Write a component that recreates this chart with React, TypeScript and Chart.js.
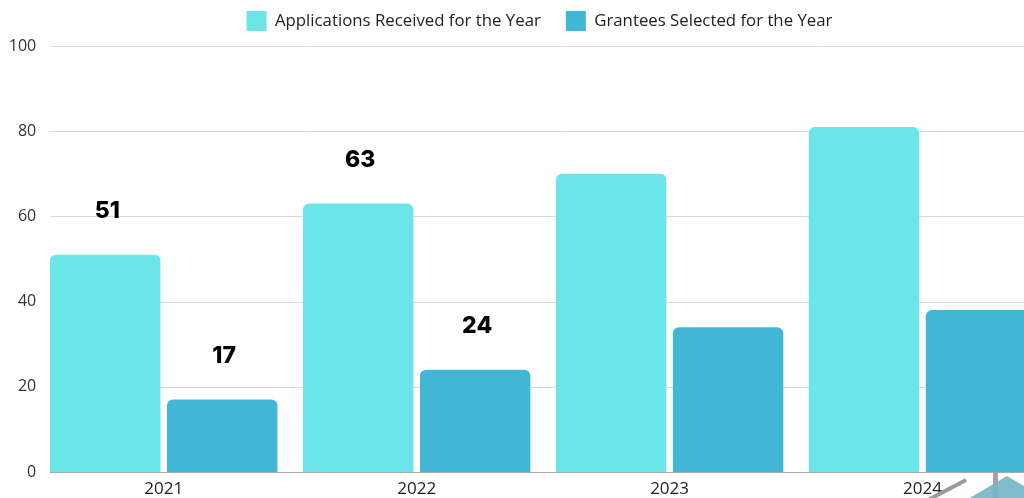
import React, { useEffect, useRef } from "react";
import { Chart, registerables } from "chart.js";

Chart.register(...registerables);

const years = ["2021", "2022", "2023", "2024"];
const applications = [51, 63, 70, 81];
const grantees = [17, 24, 34, 38];
const showApplicationsLabel = [true, true, false, false];
const showGranteesLabel = [true, true, false, false];
const seriesNames = ["Applications Received for the Year", "Grantees Selected for the Year"];
const yMin = 0;
const yMax = 100;
const yStep = 20;

const APPS_COLOR = "#6BE5E8";
const GRANT_COLOR = "#42B7D5";

const gridPlugin = {
  id: "customGrid",
  beforeDatasetsDraw(chart: any) {
    const { ctx, chartArea } = chart;
    const y = chart.scales.y;
    const meta = chart.getDatasetMeta(0);
    const first = meta.data[0] as any;
    if (!first) return;
    const x0 = first.x - first.width / 2;
    ctx.save();
    ctx.lineWidth = 1;
    y.ticks.forEach((t: any) => {
      const py = Math.round(y.getPixelForValue(t.value)) + 0.5;
      ctx.strokeStyle = t.value === 0 ? "#a9a9a9" : "#d9d9d9";
      ctx.beginPath();
      ctx.moveTo(x0, py);
      ctx.lineTo(chartArea.right + 60, py);
      ctx.stroke();
    });
    ctx.restore();
  },
};

const legendShiftPlugin = {
  id: "legendShift",
  afterLayout(chart: any) {
    const lg = chart.legend;
    if (!lg) return;
    lg.left += 15;
    lg.right += 15;
  },
};

const valueLabelPlugin = {
  id: "valueLabels",
  afterDatasetsDraw(chart: any) {
    const { ctx } = chart;
    const flags = [showApplicationsLabel, showGranteesLabel];
    ctx.save();
    ctx.font = "800 23px Inter, 'DejaVu Sans', sans-serif";
    ctx.fillStyle = "#000";
    ctx.textAlign = "center";
    ctx.textBaseline = "alphabetic";
    chart.data.datasets.forEach((ds: any, di: number) => {
      const meta = chart.getDatasetMeta(di);
      meta.data.forEach((bar: any, i: number) => {
        if (!flags[di][i]) return;
        ctx.fillText(String(ds.data[i]), bar.x + 2, bar.y - 37);
      });
    });
    ctx.restore();
  },
};

const decorationPlugin = {
  id: "cornerDecoration",
  afterDraw(chart: any) {
    const { ctx } = chart;
    ctx.save();
    ctx.fillStyle = "#a3a3a3";
    ctx.fillRect(993, 472, 5, 30);
    ctx.strokeStyle = "#9a9a9a";
    ctx.lineWidth = 4;
    ctx.beginPath();
    ctx.moveTo(928, 500);
    ctx.lineTo(966, 480);
    ctx.stroke();
    ctx.fillStyle = "rgba(118,182,198,0.92)";
    ctx.beginPath();
    ctx.moveTo(968, 499);
    ctx.lineTo(1007, 476);
    ctx.lineTo(1046, 499);
    ctx.closePath();
    ctx.fill();
    ctx.restore();
  },
};

export default function App() {
  const canvasRef = useRef<HTMLCanvasElement | null>(null);

  useEffect(() => {
    if (!canvasRef.current) return;
    const chart = new Chart(canvasRef.current, {
      type: "bar",
      data: {
        labels: years,
        datasets: [
          {
            label: seriesNames[0],
            data: applications,
            backgroundColor: APPS_COLOR,
            borderRadius: { topLeft: 6, topRight: 6, bottomLeft: 0, bottomRight: 0 },
            borderSkipped: "bottom",
            categoryPercentage: 0.925,
            barPercentage: 0.944,
          },
          {
            label: seriesNames[1],
            data: grantees,
            backgroundColor: GRANT_COLOR,
            borderRadius: { topLeft: 6, topRight: 6, bottomLeft: 0, bottomRight: 0 },
            borderSkipped: "bottom",
            categoryPercentage: 0.925,
            barPercentage: 0.944,
          },
        ],
      },
      options: {
        animation: false,
        responsive: true,
        maintainAspectRatio: false,
        layout: { padding: { top: -14, left: 0, right: 31, bottom: 0 } },
        plugins: {
          title: {
            display: true,
            text: "",
            weight: 500,
            padding: { top: 0, bottom: 0 },
            font: { size: 4, lineHeight: 1.25 },
          } as any,
          legend: {
            display: true,
            position: "top",
            labels: {
              boxWidth: 20,
              boxHeight: 20,
              padding: 25,
              color: "#222",
              font: { family: "'Open Sans', sans-serif", size: 16.8 },
            },
          },
          tooltip: { enabled: false },
        },
        scales: {
          x: {
            grid: { display: false, drawTicks: false },
            border: { display: false },
            ticks: {
              color: "#222",
              padding: 7,
              font: { family: "'Open Sans', sans-serif", size: 17 },
            },
            afterFit: (scale: any) => {
              scale.height = 26;
            },
          },
          y: {
            min: yMin,
            max: yMax,
            grid: { display: false, drawTicks: false },
            border: { display: false },
            ticks: {
              stepSize: yStep,
              color: "#333",
              padding: 1,
              font: { family: "'Open Sans', sans-serif", size: 16 },
            },
            afterFit: (scale: any) => {
              scale.width = 37.25;
            },
          },
        },
      },
      plugins: [gridPlugin, legendShiftPlugin, valueLabelPlugin, decorationPlugin],
    });
    return () => chart.destroy();
  }, []);

  return (
    <div style={{ position: "absolute", left: 0, top: 0, width: 1024, height: 498, overflow: "hidden", background: "#fff" }}>
      <div style={{ position: "relative", width: 1080, height: 498 }}>
        <canvas ref={canvasRef} />
      </div>
    </div>
  );
}
